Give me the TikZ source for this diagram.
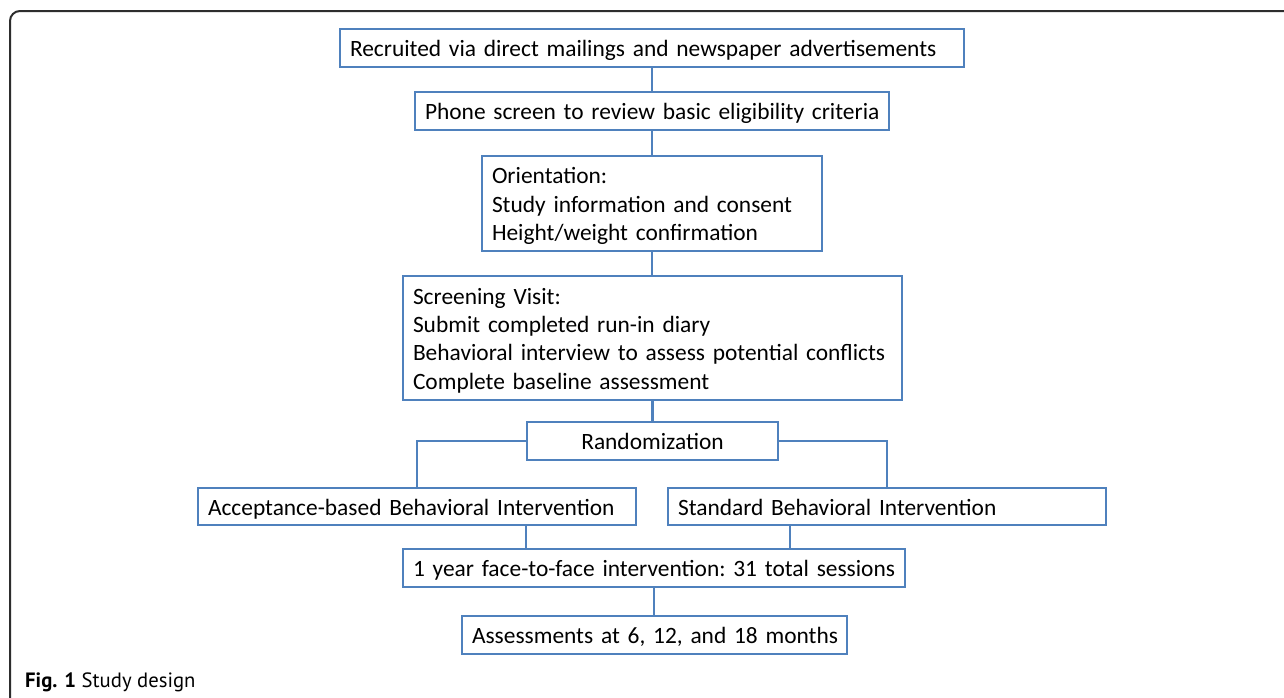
\documentclass[tikz,border=0pt]{standalone}
\usepackage{fontspec}
\setmainfont{Carlito}
\newfontfamily\capfont{PT Sans}
\definecolor{boxblue}{RGB}{79,129,189}
\definecolor{framegray}{RGB}{45,45,45}
\hbadness=10000 \hfuzz=100pt
\begin{document}
\begin{tikzpicture}[x=1pt,y=-1pt,
  flowbox/.style={draw=boxblue, line width=2.4pt, fill=white, inner xsep=10pt, inner ysep=0pt,
    align=left, anchor=center, text height=18.5pt, text depth=1pt,
    font=\frenchspacing\fontsize{23.4}{28.3}\selectfont},
  link/.style={draw=boxblue, line width=2.4pt}]
\useasboundingbox (0,0) rectangle (1284,697);
\fill[white] (0,0) rectangle (1284,697);
\draw[framegray, line width=2pt, rounded corners=10pt] (10,700) -- (10,11) -- (1290,11);

\node[flowbox, text width=604pt, minimum height=38pt] (rec) at (652,48) {\mbox{Recruited via direct mailings and newspaper advertisements}};
\node[flowbox, text width=454pt, minimum height=38pt] (phone) at (652,111) {\mbox{Phone screen to review basic eligibility criteria}};
\node[flowbox, text width=320pt, minimum height=95pt, text depth=57.6pt] (orient) at (652,203.5) {\mbox{Orientation:}\\\mbox{Study information and consent}\\\mbox{Height/weight confirmation}};
\node[flowbox, text width=479pt, minimum height=124pt, text depth=85.9pt] (screen) at (652.5,338) {\mbox{Screening Visit:}\\\mbox{Submit completed run-in diary}\\\mbox{Behavioral interview to assess potential conflicts}\\\mbox{Complete baseline assessment}};
\node[flowbox, text width=231pt, minimum height=38pt, align=center] (rand) at (652.5,441) {Randomization};
\node[flowbox, text width=418pt, minimum height=37pt] (acc) at (417,506.5) {\mbox{Acceptance-based Behavioral Intervention}};
\node[flowbox, text width=418pt, minimum height=37pt] (std) at (887,506.5) {\mbox{Standard Behavioral Intervention}};
\node[flowbox, text width=482pt, minimum height=38pt] (year) at (654,568) {\mbox{1 year face-to-face intervention: 31 total sessions}};
\node[flowbox, text width=365pt, minimum height=38pt] (assess) at (654.5,635) {\mbox{Assessments at 6, 12, and 18 months}};

\draw[link] (rec.south) -- (rec.south |- phone.north);
\draw[link] (phone.south) -- (phone.south |- orient.north);
\draw[link] (orient.south) -- (orient.south |- screen.north);
\draw[link] (screen.south) -- (screen.south |- rand.north);
\draw[link] (rand.west) -| (acc.north);
\draw[link] (rand.east) -| (std.north);
\draw[link] ([xshift=109pt]acc.south) -- ([xshift=109pt]acc.south |- year.north);
\draw[link] ([xshift=-97pt]std.south) -- ([xshift=-97pt]std.south |- year.north);
\draw[link] (year.south) -- (year.south |- assess.north);

\node[anchor=base west, inner sep=0pt, font=\capfont\fontsize{20.7}{23}\selectfont] (cap) at (25,687) {\textbf{Fig. 1} Study design};
\end{tikzpicture}
\end{document}
